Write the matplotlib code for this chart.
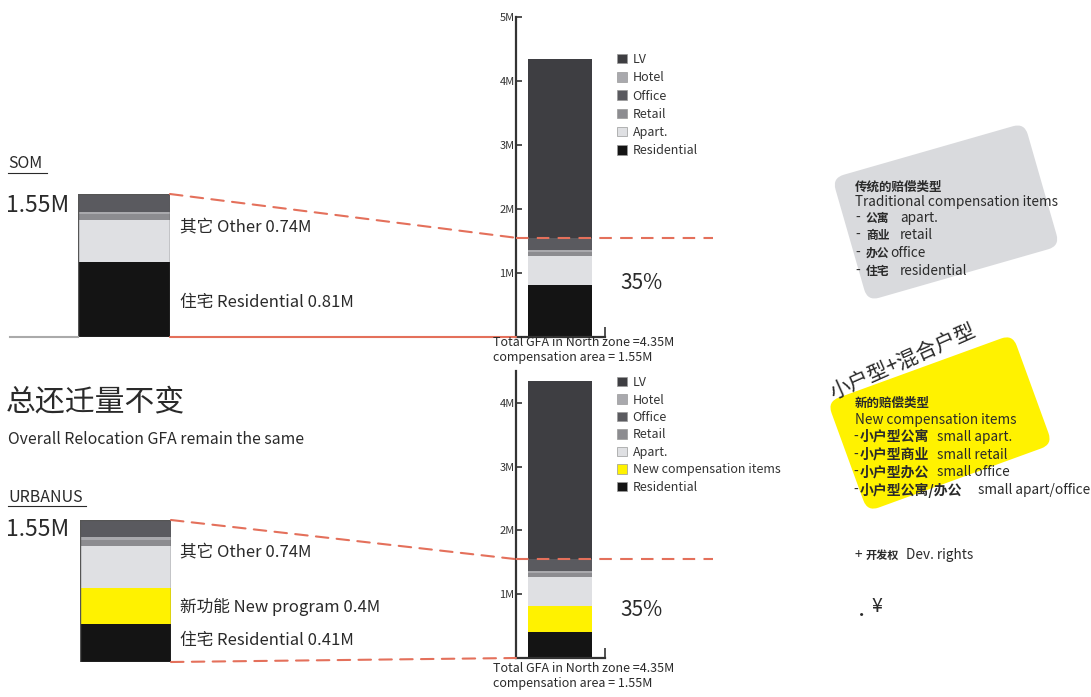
import matplotlib
matplotlib.use('Agg')
import matplotlib.pyplot as plt
from matplotlib.patches import Patch, FancyBboxPatch, ConnectionPatch
from matplotlib.transforms import Affine2D

plt.rcParams['font.family'] = ['Noto Sans CJK SC', 'DejaVu Sans']

# GFA by use, stacked bottom -> top (million m2)
stack_order = ['Residential', 'New compensation items', 'Apart.', 'Retail', 'Hotel', 'Office', 'LV']
som_gfa = [0.81, 0.00, 0.46, 0.06, 0.03, 0.19, 2.80]
urbanus_gfa = [0.41, 0.40, 0.46, 0.06, 0.03, 0.19, 2.80]
top_legend = ['LV', 'Hotel', 'Office', 'Retail', 'Apart.', 'Residential']
bottom_legend = ['LV', 'Hotel', 'Office', 'Retail', 'Apart.', 'New compensation items', 'Residential']
top_ticks = [1, 2, 3, 4, 5]
bottom_ticks = [1, 2, 3, 4]
share_label = '35%'

colors = {'Residential': '#141414', 'New compensation items': '#fff200', 'Apart.': '#dfe0e3',
          'Retail': '#8c8c90', 'Hotel': '#a9a9ad', 'Office': '#5a5a5f', 'LV': '#3e3e42'}
red = '#e4705b'

W, H = 1091, 697
fig = plt.figure(figsize=(W / 100, H / 100), dpi=100)


def px_axes(x0, y0, x1, y1):
    return fig.add_axes([x0 / W, 1 - y1 / H, (x1 - x0) / W, (y1 - y0) / H])


def stack(ax, values, x, width):
    bottom = 0
    for name, v in zip(stack_order[:len(values)], values):
        if v > 0:
            ax.bar(x, v, bottom=bottom, width=width, color=colors[name], edgecolor='none', zorder=2)
        bottom += v
    return bottom


# left small bars (compensation only, no LV)
som_ax = px_axes(78, 194, 170, 337)
urb_ax = px_axes(80, 520, 171, 662)
for ax, vals in ((som_ax, som_gfa), (urb_ax, urbanus_gfa)):
    total = stack(ax, vals[:-1], 0, 1)
    ax.bar(0, total, width=1, fill=False, edgecolor='#555555', linewidth=1, zorder=3)
    ax.set_xlim(-0.5, 0.5)
    ax.set_ylim(0, total)
    ax.axis('off')

# right full bars
top_ax = px_axes(516, 17, 605, 337)
bot_ax = px_axes(516, 371, 605, 658)
for ax, vals, ticks, ymax in ((top_ax, som_gfa, top_ticks, 5), (bot_ax, urbanus_gfa, bottom_ticks, 4.5)):
    stack(ax, vals, 44, 64)
    ax.set_xlim(0, 89)
    ax.set_ylim(0, ymax)
    ax.set_yticks(ticks)
    ax.set_yticklabels([f'{t}M' for t in ticks], fontsize=8, color='#333333')
    ax.set_xticks([89])
    ax.set_xticklabels([''])
    ax.tick_params(direction='in', length=4, width=1.2, color='#333333', pad=1)
    ax.tick_params(axis='x', length=7)
    for s in ('top', 'right'):
        ax.spines[s].set_visible(False)
    for s in ('left', 'bottom'):
        ax.spines[s].set_color('#333333')
        ax.spines[s].set_linewidth(1.6)
    ax.patch.set_alpha(0)

for ax, names, y0, sp in ((top_ax, top_legend, 53, 0.42), (bot_ax, bottom_legend, 376, 0.36)):
    handles = [Patch(facecolor=colors[n], edgecolor='#999999', linewidth=0.5) for n in names]
    ax.legend(handles, names, loc='upper left', bbox_to_anchor=(617 / W, 1 - y0 / H),
              bbox_transform=fig.transFigure, frameon=False, fontsize=9, handlelength=0.8,
              handleheight=0.8, handletextpad=0.45, labelspacing=sp, borderpad=0,
              borderaxespad=0, labelcolor='#333333')

comp = sum(som_gfa[:-1])
total_gfa = sum(som_gfa)

# connector lines between left and right bars
dash = (0, (6, 4))
for left, right, vals in ((som_ax, top_ax, som_gfa), (urb_ax, bot_ax, urbanus_gfa)):
    c = sum(vals[:-1])
    fig.add_artist(ConnectionPatch(xyA=(0.5, c), coordsA=left.transData, xyB=(0, c),
                                   coordsB=right.transData, color=red, linestyle=dash, lw=1.5, zorder=6))
    right.plot([0, 197], [c, c], color=red, linestyle=dash, lw=1.5, clip_on=False, zorder=6)
fig.add_artist(ConnectionPatch(xyA=(0.5, 0), coordsA=som_ax.transData, xyB=(0, 0),
                               coordsB=top_ax.transData, color=red, lw=1.5, zorder=6))
fig.add_artist(ConnectionPatch(xyA=(0.5, 0), coordsA=urb_ax.transData, xyB=(0, 0),
                               coordsB=bot_ax.transData, color=red, linestyle=dash, lw=1.5, zorder=6))

# overlay for annotations, pixel coords
ov = fig.add_axes([0, 0, 1, 1], zorder=10)
ov.set_xlim(0, W)
ov.set_ylim(H, 0)
ov.axis('off')
ov.patch.set_alpha(0)

tc = '#2a2a2a'
ov.plot([10, 78], [337, 337], color='#aaaaaa', lw=1.5)

other = sum(som_gfa[2:-1])
ov.text(8, 164, 'SOM', fontsize=11.5, color=tc, va='center')
ov.plot([8, 47], [173, 173], color=tc, lw=0.8)
ov.text(6, 205, f'{comp:.2f}M', fontsize=16.5, color=tc, va='center')
ov.text(180, 227, f'其它 Other {other:.2f}M', fontsize=12, color=tc, va='center')
ov.text(180, 302, f'住宅 Residential {som_gfa[0]:.2f}M', fontsize=12, color=tc, va='center')

ov.text(6, 402, '总还迁量不变', fontsize=21.5, color=tc, va='center')
ov.text(8, 440, 'Overall Relocation GFA remain the same', fontsize=11.4, color=tc, va='center')

ov.text(8, 497, 'URBANUS', fontsize=11.5, color=tc, va='center')
ov.plot([8, 86], [506, 506], color=tc, lw=0.8)
ov.text(6, 529, f'{sum(urbanus_gfa[:-1]):.2f}M', fontsize=16.5, color=tc, va='center')
ov.text(180, 552, f'其它 Other {sum(urbanus_gfa[2:-1]):.2f}M', fontsize=12, color=tc, va='center')
ov.text(180, 607, f'新功能 New program {urbanus_gfa[1]:.1f}M', fontsize=12, color=tc, va='center')
ov.text(180, 640, f'住宅 Residential {urbanus_gfa[0]:.2f}M', fontsize=12, color=tc, va='center')

for y in (283, 610):
    ov.text(620, y, share_label, fontsize=15, color=tc, va='center')
for y in (343, 668):
    ov.text(493, y, f'Total GFA in North zone ={total_gfa:.2f}M', fontsize=9, color=tc, va='center')
    ov.text(493, y + 15, f'compensation area = {comp:.2f}M', fontsize=9, color=tc, va='center')

# cards
for cx, cy, w, h, ang, col in ((946, 212, 200, 128, -16, '#d9dadd'), (940, 423, 197, 117, -20, '#fff200')):
    card = FancyBboxPatch((cx - w / 2, cy - h / 2), w, h, boxstyle='round,pad=0,rounding_size=12',
                          facecolor=col, edgecolor='none',
                          transform=Affine2D().rotate_deg_around(cx, cy, ang) + ov.transData)
    ov.add_patch(card)

ov.text(903, 362, '小户型+混合户型', fontsize=15, color=tc, rotation=24, ha='center', va='center',
        rotation_mode='anchor')

fs = 9.8
ov.text(855, 187, '传统的赔偿类型', fontsize=9, color=tc, weight='bold', va='center')
ov.text(855, 202, 'Traditional compensation items', fontsize=fs, color=tc, va='center')
for y, zh, en, ex in ((218, '公寓', 'apart.', 900), (235, '商业', 'retail', 900),
                      (253, '办公', 'office', 890), (271, '住宅', 'residential', 900)):
    ov.text(855, y, '-', fontsize=fs, color=tc, va='center')
    ov.text(866, y, zh, fontsize=8.5, color=tc, weight='bold', va='center')
    ov.text(ex, y, en, fontsize=fs, color=tc, va='center')

ov.text(855, 403, '新的赔偿类型', fontsize=9, color=tc, weight='bold', va='center')
ov.text(855, 420, 'New compensation items', fontsize=fs, color=tc, va='center')
for y, zh, en, ex in ((437, '小户型公寓', 'small apart.', 937), (455, '小户型商业', 'small retail', 937),
                      (472, '小户型办公', 'small office', 937), (490, '小户型公寓/办公', 'small apart/office', 978)):
    ov.text(853, y, '-', fontsize=fs, color=tc, va='center')
    ov.text(860, y, zh, fontsize=10, color=tc, weight='bold', va='center')
    ov.text(ex, y, en, fontsize=fs, color=tc, va='center')

ov.text(855, 555, '+', fontsize=fs, color=tc, va='center')
ov.text(866, 555, '开发权', fontsize=8, color=tc, weight='bold', va='center')
ov.text(906, 555, 'Dev. rights', fontsize=fs, color=tc, va='center')
ov.text(854, 615, '•', fontsize=11, color=tc, va='center')
ov.text(871, 607, '¥', fontsize=14, color=tc, va='center')

fig.savefig('out.png', dpi=100)
